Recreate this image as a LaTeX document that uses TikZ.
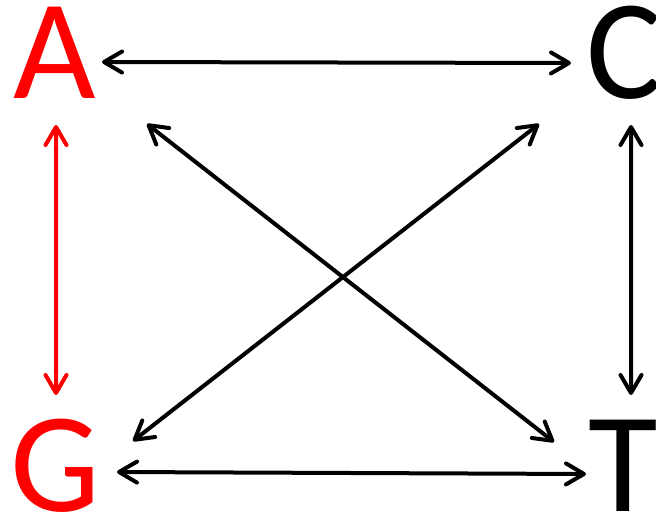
\documentclass[tikz,border=0pt]{standalone}
\usepackage{fontspec}
\setmainfont{Carlito}
\usepackage{xcolor}
\usetikzlibrary{arrows.meta}
\definecolor{purered}{HTML}{FF0000}

\begin{document}
\begin{tikzpicture}[x=1bp, y=-1bp,
    base/.style={inner sep=0pt, anchor=base, font=\fontsize{143}{143}\selectfont},
    link/.style={line width=4bp, line cap=round, line join=round,
      {Straight Barb[length=18bp, width=21bp, round]}-{Straight Barb[length=18bp, width=21bp, round]}}]
    \useasboundingbox (0,0) rectangle (656,516);
    \clip (0,0) rectangle (656,516);
    % the four bases
    \node[base, text=purered] (a) at (55,99) {A};
    \node[base] (c) at (624.5,99) {C};
    \node[base, text=purered] (g) at (55.5,511) {G};
    \node[base] (t) at (623,511) {T};
    % pairs
    \draw[link] ([shift={(47,-37)}]a.base) -- ([shift={(-53.5,-36)}]c.base);
    \draw[link, purered] ([shift={(1,26)}]a.base) -- ([shift={(0.5,-116)}]g.base);
    \draw[link] ([shift={(6.5,26)}]c.base) -- ([shift={(8,-116)}]t.base);
    \draw[link] ([shift={(92,25)}]a.base) -- ([shift={(-69,-69)}]t.base);
    \draw[link] ([shift={(-85.5,25)}]c.base) -- ([shift={(77.5,-70)}]g.base);
    \draw[link] ([shift={(61.5,-39)}]g.base) -- ([shift={(-37,-37)}]t.base);
  \end{tikzpicture}
\end{document}
